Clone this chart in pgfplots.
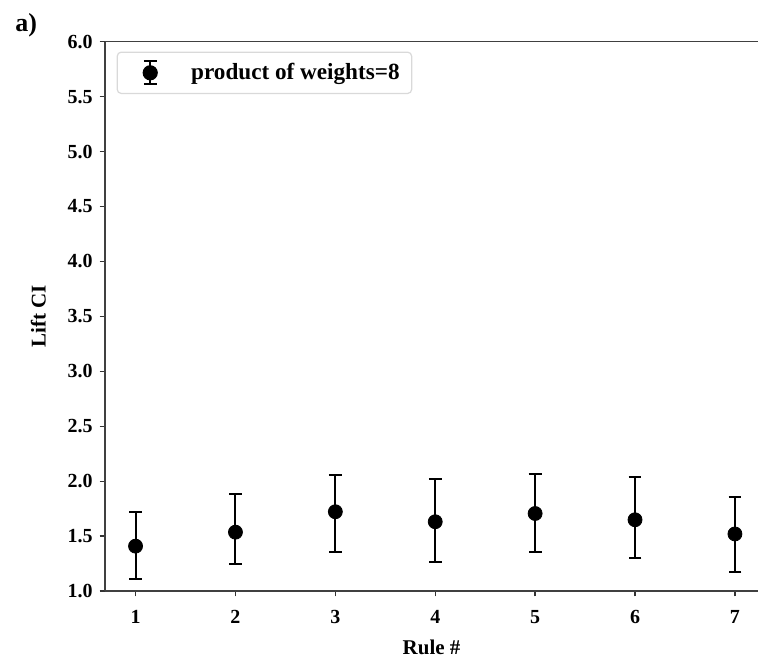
\documentclass[border=0pt]{standalone}
\usepackage{fontspec}
\setmainfont{Liberation Serif}
\usepackage{pgfplots}
\pgfplotsset{compat=1.18}
\usepackage{pgfplotstable}
\usetikzlibrary{calc}

% rule, lift, upper error, lower error
\pgfplotstableread{
x y ep em
1 1.409 0.311 0.296
2 1.536 0.352 0.287
3 1.722 0.333 0.367
4 1.631 0.387 0.367
5 1.706 0.364 0.351
6 1.649 0.385 0.349
7 1.520 0.332 0.347
}\liftdata

\begin{document}
\begin{tikzpicture}
\begin{axis}[
  name=ax,
  scale only axis,
  width=327pt, height=275pt,
  xmin=0.693, xmax=7.233,
  ymin=1.0, ymax=6.0,
  axis x line*=box,
  axis y line*=left,
  xtick pos=bottom, ytick pos=left,
  xtick={1,...,7},
  ytick={1.0,1.5,...,6.0},
  yticklabel style={/pgf/number format/.cd, fixed, fixed zerofill, precision=1},
  /pgf/number format/assume math mode=true,
  ticklabel style={font=\fontsize{10}{12}\selectfont\bfseries},
  xticklabel style={yshift=-3.5pt},
  tick align=outside,
  major tick length=2.6pt,
  tick style={line width=0.7pt, black!80},
  axis line style={line width=0.8pt, black!75},
  xlabel={Rule \#},
  ylabel={Lift CI},
  label style={font=\fontsize{10.5}{12}\selectfont\bfseries},
  xlabel style={yshift=-1pt},
  ylabel style={yshift=4pt},
  legend style={at={(0.018,0.982)}, anchor=north west, draw=black!15,
    rounded corners=2pt, line width=0.6pt,
    font=\fontsize{11.6}{13}\selectfont\bfseries,
    inner xsep=4pt, inner ysep=3.5pt},
  legend image code/.code={
    \path[draw=none, fill=none] (0pt,-0.2cm) rectangle (24pt,0.2cm);
    \draw[line width=1pt] (12.5pt,-5.8pt) -- (12.5pt,5.8pt);
    \draw[line width=1pt] (9.3pt,-5.8pt) -- (15.7pt,-5.8pt);
    \draw[line width=1pt] (9.3pt,5.8pt) -- (15.7pt,5.8pt);
    \fill (12.5pt,0) circle (3.5pt);
  },
  legend cell align=left,
]
\addplot[only marks, mark=*, mark size=3.5pt, black,
  error bars/.cd, y dir=both, y explicit,
  error bar style={line width=1pt, black},
  error mark options={rotate=90, mark size=3.2pt, line width=1pt, black}]
  table[x=x, y=y, y error plus=ep, y error minus=em] {\liftdata};
\addlegendentry{\hspace{7pt}product of weights=8}
\end{axis}
\path (ax.south west) ++(-52.5pt,-34.15pt) coordinate (bl);
\path (bl) rectangle ++(379.5pt,330pt);
\node[anchor=north west, font=\fontsize{13}{15}\selectfont\bfseries, inner sep=0pt]
  at ($(bl)+(7.5pt,323.5pt)$) {a)};
\end{tikzpicture}
\end{document}
